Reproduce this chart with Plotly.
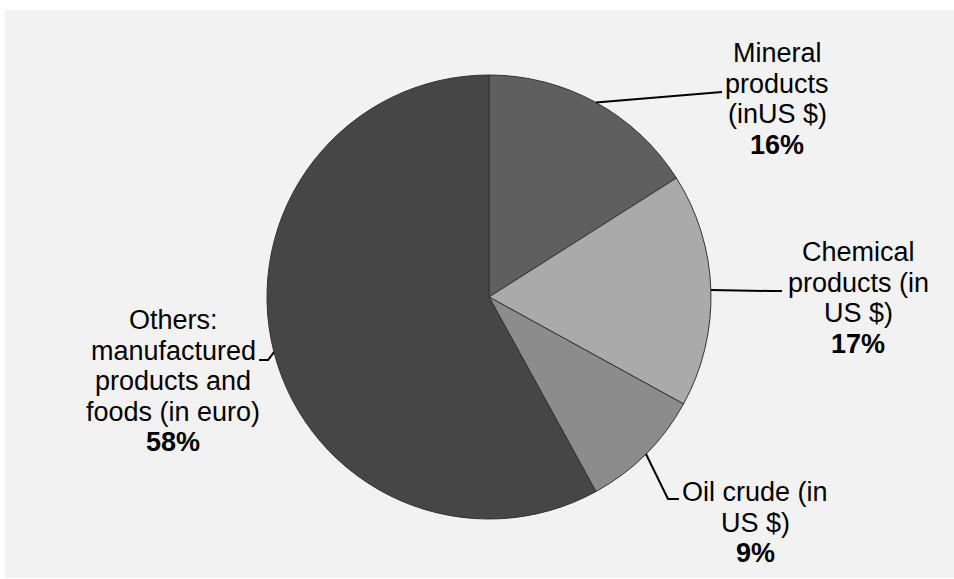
import math
import plotly.graph_objects as go

W, H = 954, 579

# ---- data ----
categories = ["Mineral products (inUS $)", "Chemical products (in US $)",
              "Oil crude (in US $)", "Others: manufactured products and foods (in euro)"]
values = [16, 17, 9, 58]
label_lines = [
    ["Mineral", "products", "(inUS $)"],
    ["Chemical", "products (in", "US $)"],
    ["Oil crude (in", "US $)"],
    ["Others:", "manufactured", "products and", "foods (in euro)"],
]
pct_labels = ["16%", "17%", "9%", "58%"]
colors = ["#5f5f5f", "#aaaaaa", "#8c8c8c", "#464646"]

# ---- layout (pixels) ----
cx, cy, R = 489, 297, 222
label_cx = [777, 858, 755, 173]
label_y0 = [53, 252, 492, 320]
line_gap = 30.5
# leader path points after the pie edge point (pixels)
leader_tail = [
    [(722, 92)],
    [(770, 291), (782, 291)],
    [(668, 499), (679, 499)],
    [(268, 360), (259, 360)],
]

def px(x):
    return x / W

def py(y):
    return 1 - y / H

fig = go.Figure(go.Pie(
    labels=categories, values=values, sort=False, direction="clockwise",
    rotation=0, textinfo="none", hoverinfo="label+percent",
    marker=dict(colors=colors, line=dict(color="#333333", width=1)),
    domain=dict(x=[px(cx - R), px(cx + R)], y=[py(cy + R), py(cy - R)]),
    showlegend=False,
))

shapes = [dict(type="rect", xref="paper", yref="paper", x0=px(5), x1=1,
               y0=py(578), y1=py(10), fillcolor="#f2f2f2", line=dict(width=0),
               layer="below")]
annotations = []
font = "Liberation Sans, Arial, sans-serif"
total = sum(values)
cum = 0
for i, v in enumerate(values):
    mid = (cum + v / 2) / total * 2 * math.pi
    cum += v
    ex = cx + R * math.sin(mid)
    ey = cy - R * math.cos(mid)
    pts = [(ex, ey)] + leader_tail[i]
    path = "M " + " L ".join(f"{px(x):.5f},{py(y):.5f}" for x, y in pts)
    shapes.append(dict(type="path", xref="paper", yref="paper", path=path,
                       line=dict(color="#000000", width=2), layer="above"))
    lines = label_lines[i] + [pct_labels[i]]
    for j, t in enumerate(lines):
        bold = j == len(lines) - 1
        annotations.append(dict(
            x=px(label_cx[i]), y=py(label_y0[i] + j * line_gap),
            xref="paper", yref="paper", text=f"<b>{t}</b>" if bold else t,
            showarrow=False, xanchor="center", yanchor="middle",
            font=dict(family=font, size=27, color="#000000")))

fig.update_layout(
    width=W, height=H, margin=dict(l=0, r=0, t=0, b=0),
    paper_bgcolor="#ffffff", shapes=shapes, annotations=annotations,
)
fig.write_html("out.html", config={"displayModeBar": False},
               post_script="document.body.style.margin='0';document.body.style.overflow='hidden';")
